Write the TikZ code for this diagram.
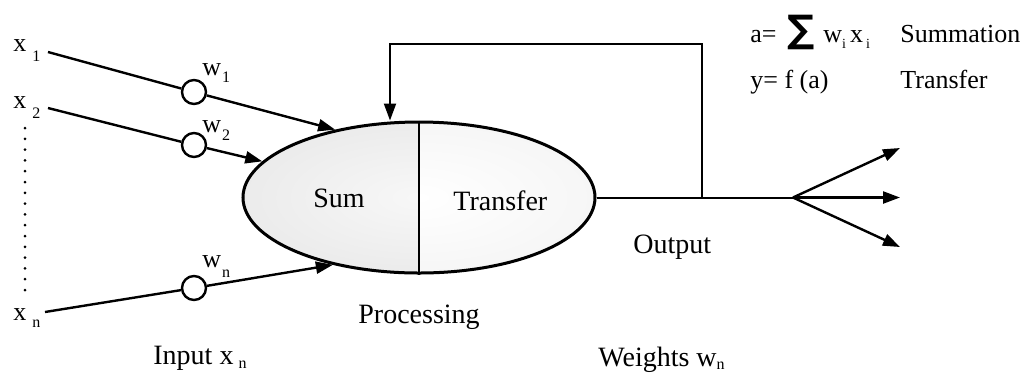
\documentclass[tikz,border=0pt]{standalone}
\usepackage{fontspec}
\setmainfont{Liberation Serif}
\newfontfamily\symfont{DejaVu Sans}
\usetikzlibrary{arrows.meta,shapes.geometric,calc}
% symbol with a lowered index: #1 symbol, #2 index, #3 gap, #4 drop
\newcommand{\lbl}[4]{#1\hspace{#3}\raisebox{-#4}{\fontsize{8}{9}\selectfont #2}}
\begin{document}
\begin{tikzpicture}[x=0.5pt,y=-0.5pt,
  txt/.style={inner sep=0, anchor=base west, font=\fontsize{14}{16}\selectfont},
  lab/.style={inner sep=0, anchor=base west, font=\fontsize{13}{15}\selectfont},
  wdot/.style={circle, draw, fill=white, line width=1.2pt, minimum size=12pt, inner sep=0},
  wire/.style={line width=1.2pt},
  thin wire/.style={line width=1pt},
  tip/.style={-{Triangle[length=8.5pt,width=6pt]}},
]
\useasboundingbox (0,0) rectangle (1025,372);

% shaded body of the neuron
\coordinate (c) at (419,197.5);
\begin{scope}
  \clip (c) ellipse [x radius=176, y radius=75.5];
  \shade[inner color=gray!6, outer color=gray!25] ($(c)+(-352,-151)$) rectangle ($(c)+(352,151)$);
  \clip ($(c)+(0,-100)$) rectangle ($(c)+(200,100)$);
  \shade[inner color=white, outer color=gray!14] ($(c)+(-352,-151)$) rectangle ($(c)+(352,151)$);
\end{scope}
\node[ellipse, draw, line width=1.5pt, minimum width=176pt, minimum height=75.5pt, inner sep=0] (neuron) at (c) {};
\draw[thin wire] (neuron.north) -- (neuron.south);
\node[txt] (sum) at (313,207) {Sum};
\node[txt] (transfer) at (453,210) {Transfer};

% inputs
\node[lab] (x1) at (13,51) {\lbl{x}{1}{3pt}{5pt}};
\node[lab] (x2) at (13,108) {\lbl{x}{2}{3pt}{5pt}};
\node[lab] (xn) at (13,320) {\lbl{x}{n}{3pt}{3.5pt}};
\coordinate (s1) at (48,52);
\coordinate (s2) at (48,108);
\coordinate (sn) at (45,312);
\coordinate (d1) at (25,128);
\coordinate (d2) at (25,290);
\draw[line width=1.5pt, line cap=round, dash pattern=on 0pt off 5.4pt] (d1) -- (d2);

% weights
\node[wdot] (c1) at (194,92) {};
\node[wdot] (c2) at (194,145) {};
\node[wdot] (cn) at (194,288) {};
\node[lab] (w1) at (202,75) {\lbl{w}{1}{0.5pt}{3.5pt}};
\node[lab] (w2) at (202,132) {\lbl{w}{2}{0.5pt}{4pt}};
\node[lab] (wn) at (202,267) {\lbl{w}{n}{0.5pt}{5pt}};

\draw[wire] (s1) -- (c1);
\draw[wire] (s2) -- (c2);
\draw[wire] (sn) -- (cn);
\draw[wire, tip] (c1) -- (neuron.141.4);
\draw[wire, tip] (c2) -- (neuron.167.4);
\draw[wire, tip] (cn) -- (neuron.218.8);

% output and feedback
\coordinate (tap) at (702,197.5);
\coordinate (fbl) at (390,44);
\coordinate (fork) at (793,197.5);
\coordinate (o1) at (900,148);
\coordinate (o2) at (900,197.5);
\coordinate (o3) at (900,247);
\draw[thin wire] (neuron.east) -- (fork);
\draw[thin wire, tip] (tap) |- (fbl) -- (fbl |- neuron.north);
\draw[wire, tip] (fork) -- (o1);
\draw[wire, tip] (fork) -- (o2);
\draw[wire, tip] (fork) -- (o3);

% captions
\node[txt] (output) at (633,253) {Output};
\node[txt] (processing) at (358,323) {Processing};
\node[txt] (input) at (153,364) {Input x\hspace{2.5pt}\raisebox{-2pt}{\fontsize{8}{9}\selectfont n}};
\node[txt] (weights) at (598,366) {Weights w\raisebox{-1.5pt}{\fontsize{8}{9}\selectfont n}};

% formulas
\node[lab] (eqa) at (750,42) {a=\hspace{0.4em}{\fontsize{19}{19}\selectfont\symfont\bfseries ∑}\hspace{0.35em}w\raisebox{-3pt}{\fontsize{7}{8}\selectfont i}\hspace{2pt}x\hspace{1.5pt}\raisebox{-3pt}{\fontsize{7}{8}\selectfont i}};
\node[lab] (summation) at (900,42) {Summation};
\node[lab] (eqy) at (750,88) {y= f (a)};
\node[lab] (transferlbl) at (900,88) {Transfer};
\end{tikzpicture}
\end{document}
